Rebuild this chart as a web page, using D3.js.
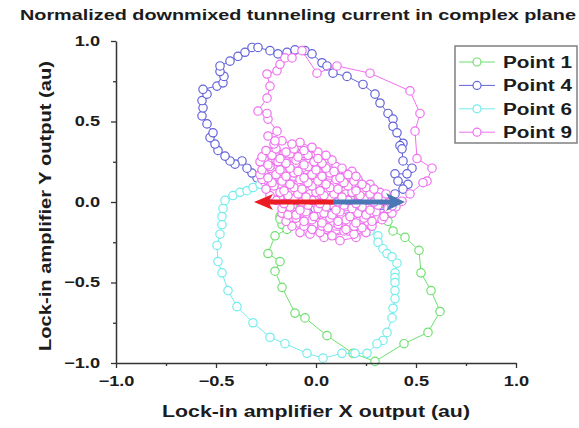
<!DOCTYPE html>
<html>
<head>
<meta charset="utf-8">
<script src="https://cdn.jsdelivr.net/npm/d3@7"></script>
<style>
  body { margin: 0; background: #fff; }
  svg { display: block; }
  text { font-family: "Liberation Sans", Arial, sans-serif; font-weight: bold; fill: #1c1c1c; }
</style>
</head>
<body>
<svg id="chart" width="579" height="428"></svg>
<script>
// ---- data (lock-in X, Y outputs, normalized) ----
const seriesNames = ["Point 1", "Point 4", "Point 6", "Point 9"];

const point1 = [[-0.17,-0.14],[-0.18,-0.09],[-0.13,-0.07],[-0.08,-0.04],[-0.02,-0.02],[0.045,0.01],[0.11,0.02],[0.17,0.03],[0.23,0.04],[0.28,0.02],[0.33,-0.06],[0.36,-0.12],[0.385,-0.18],[0.445,-0.22],[0.515,-0.30],[0.525,-0.44],[0.575,-0.55],[0.62,-0.68],[0.56,-0.81],[0.44,-0.88],[0.295,-0.99],[0.185,-0.94],[0.055,-0.83],[-0.055,-0.72],[-0.105,-0.69],[-0.17,-0.53],[-0.205,-0.43],[-0.18,-0.37],[-0.24,-0.32],[-0.205,-0.21],[-0.145,-0.17],[-0.18,-0.105]];

const point4 = [[-0.24,0.11],[-0.27,0.13],[-0.295,0.15],[-0.32,0.18],[-0.345,0.21],[-0.37,0.255],[-0.405,0.235],[-0.43,0.255],[-0.455,0.285],[-0.49,0.32],[-0.505,0.36],[-0.53,0.40],[-0.515,0.43],[-0.545,0.485],[-0.57,0.535],[-0.565,0.585],[-0.57,0.63],[-0.545,0.67],[-0.565,0.70],[-0.495,0.72],[-0.465,0.74],[-0.46,0.78],[-0.48,0.81],[-0.48,0.845],[-0.43,0.875],[-0.39,0.905],[-0.355,0.93],[-0.32,0.96],[-0.29,0.96],[-0.23,0.94],[-0.19,0.92],[-0.145,0.93],[-0.105,0.945],[-0.055,0.94],[-0.02,0.92],[0.03,0.865],[0.055,0.845],[0.085,0.80],[0.155,0.78],[0.235,0.73],[0.295,0.67],[0.32,0.615],[0.36,0.55],[0.385,0.515],[0.385,0.47],[0.405,0.43],[0.435,0.365],[0.42,0.35],[0.43,0.33],[0.435,0.255],[0.48,0.21],[0.455,0.175],[0.395,0.175],[0.41,0.13],[0.46,0.11],[0.435,0.08],[0.395,0.05],[0.355,-0.01],[0.33,-0.07],[0.295,-0.105],[0.22,-0.13],[0.145,-0.10],[0.07,-0.07],[-0.005,-0.04],[-0.08,0.005],[-0.155,0.05],[-0.205,0.08]];

const point6 = [[-0.13,0.02],[-0.055,-0.01],[0.02,-0.04],[0.095,-0.07],[0.16,-0.09],[0.22,-0.12],[0.235,-0.16],[0.27,-0.18],[0.31,-0.21],[0.31,-0.25],[0.335,-0.29],[0.355,-0.32],[0.38,-0.34],[0.405,-0.38],[0.395,-0.44],[0.395,-0.47],[0.395,-0.50],[0.395,-0.55],[0.395,-0.60],[0.385,-0.66],[0.38,-0.72],[0.355,-0.81],[0.335,-0.86],[0.305,-0.88],[0.255,-0.94],[0.195,-0.94],[0.13,-0.94],[0.035,-0.97],[-0.045,-0.94],[-0.155,-0.88],[-0.23,-0.84],[-0.315,-0.75],[-0.395,-0.65],[-0.44,-0.55],[-0.47,-0.44],[-0.49,-0.37],[-0.495,-0.27],[-0.48,-0.20],[-0.47,-0.14],[-0.47,-0.09],[-0.465,-0.04],[-0.455,0.01],[-0.415,0.04],[-0.38,0.06],[-0.345,0.07],[-0.315,0.09],[-0.28,0.11],[-0.255,0.12],[-0.22,0.13],[-0.17,0.10],[-0.105,0.07]];

const point9 = [
  [-0.23,0.31],[-0.16,0.30],[-0.07,0.30],[0.01,0.31],
  [0.06,0.27],[-0.03,0.26],[-0.11,0.27],[-0.20,0.26],[-0.26,0.27],
  [-0.25,0.22],[-0.16,0.23],[-0.07,0.21],[0.02,0.23],[0.10,0.22],
  [0.18,0.19],[0.10,0.17],[0.01,0.19],[-0.08,0.17],[-0.17,0.19],[-0.26,0.18],
  [-0.24,0.13],[-0.15,0.14],[-0.06,0.13],[0.03,0.15],[0.12,0.13],[0.21,0.14],
  [0.27,0.11],[0.18,0.09],[0.09,0.11],[0.00,0.09],[-0.09,0.11],[-0.18,0.09],[-0.23,0.10],
  [-0.21,0.06],[-0.12,0.07],[-0.03,0.05],[0.06,0.07],[0.15,0.05],[0.24,0.07],[0.32,0.06],
  [0.35,0.02],[0.26,0.03],[0.17,0.02],[0.08,0.03],[-0.01,0.02],[-0.10,0.03],[-0.18,0.02],
  [-0.15,-0.02],[-0.06,-0.01],[0.03,-0.02],[0.12,-0.01],[0.21,-0.02],[0.30,-0.01],[0.38,-0.02],
  [0.36,-0.06],[0.27,-0.07],[0.19,-0.05],[0.10,-0.06],[0.01,-0.07],[-0.08,-0.06],[-0.15,-0.05],
  [-0.13,-0.10],[-0.04,-0.09],[0.05,-0.11],[0.13,-0.09],[0.22,-0.11],[0.31,-0.10],
  [0.26,-0.13],[0.17,-0.14],[0.08,-0.13],[-0.01,-0.14],[-0.09,-0.13],
  [-0.05,-0.18],[0.05,-0.17],[0.16,-0.18],[0.24,-0.17],
  [0.04,-0.22],[0.12,-0.24],[0.20,-0.22],
  [0.25,-0.19],[0.19,-0.20],[0.14,-0.18],[0.08,-0.21],[0.02,-0.19],[-0.03,-0.20],[-0.08,-0.19],
  [-0.12,-0.15],[-0.06,-0.15],[-0.02,-0.17],[0.03,-0.15],[0.06,-0.16],[0.11,-0.14],[0.15,-0.17],[0.19,-0.15],[0.23,-0.16],[0.28,-0.15],
  [0.33,-0.11],[0.28,-0.12],[0.24,-0.10],[0.20,-0.13],[0.15,-0.11],[0.11,-0.12],[0.07,-0.10],[0.03,-0.13],[-0.02,-0.11],[-0.06,-0.12],[-0.10,-0.10],[-0.15,-0.12],
  [-0.17,-0.07],[-0.14,-0.08],[-0.10,-0.08],[-0.05,-0.06],[-0.01,-0.09],[0.04,-0.07],[0.08,-0.08],[0.12,-0.06],[0.17,-0.09],[0.21,-0.07],[0.25,-0.08],[0.30,-0.06],[0.34,-0.09],[0.38,-0.07],
  [0.40,-0.03],[0.36,-0.04],[0.31,-0.02],[0.27,-0.05],[0.23,-0.03],[0.18,-0.04],[0.14,-0.02],[0.10,-0.05],[0.05,-0.03],[0.01,-0.04],[-0.04,-0.02],[-0.08,-0.05],[-0.13,-0.03],[-0.17,-0.04],
  [-0.20,0.01],[-0.16,-0.01],[-0.11,0.02],[-0.07,0.00],[-0.02,0.01],[0.02,-0.01],[0.07,0.02],[0.11,0.00],[0.16,0.01],[0.20,-0.01],[0.24,0.02],[0.29,0.00],[0.33,0.01],[0.37,0.00],
  [0.35,0.05],[0.31,0.03],[0.27,0.05],[0.22,0.04],[0.18,0.06],[0.13,0.03],[0.09,0.05],[0.04,0.04],[0.00,0.06],[-0.05,0.03],[-0.09,0.05],[-0.14,0.04],[-0.18,0.06],[-0.23,0.04],
  [-0.25,0.08],[-0.21,0.10],[-0.16,0.07],[-0.11,0.09],[-0.07,0.08],[-0.02,0.10],[0.02,0.07],[0.07,0.09],[0.11,0.08],[0.16,0.10],[0.20,0.07],[0.25,0.09],[0.29,0.08],
  [0.23,0.11],[0.19,0.13],[0.14,0.12],[0.10,0.14],[0.05,0.11],[0.01,0.13],[-0.04,0.12],[-0.08,0.14],[-0.13,0.11],[-0.17,0.13],[-0.22,0.12],[-0.27,0.14],
  [-0.28,0.17],[-0.24,0.15],[-0.20,0.17],[-0.15,0.16],[-0.11,0.18],[-0.06,0.15],[-0.02,0.17],[0.03,0.16],[0.07,0.18],[0.12,0.15],[0.16,0.17],[0.20,0.16],
  [0.13,0.21],[0.09,0.19],[0.05,0.21],[0.00,0.20],[-0.04,0.22],[-0.09,0.19],[-0.13,0.21],[-0.18,0.20],[-0.23,0.22],[-0.27,0.20],
  [-0.28,0.25],[-0.24,0.23],[-0.19,0.25],[-0.15,0.24],[-0.10,0.26],[-0.06,0.23],[-0.01,0.25],[0.03,0.24],[0.08,0.26],
  [0.05,0.29],[0.01,0.27],[-0.04,0.29],[-0.09,0.28],[-0.13,0.30],[-0.18,0.27],[-0.22,0.29],[-0.27,0.28],
  [-0.25,0.32],[-0.20,0.33],[-0.15,0.31],[-0.11,0.33],[-0.06,0.32],[-0.02,0.34],
  [-0.08,0.37],[-0.12,0.36],[-0.17,0.38],[-0.21,0.36],
  [-0.205,0.38],[-0.24,0.41],[-0.195,0.44],[-0.24,0.515],[-0.245,0.55],[-0.29,0.565],[-0.245,0.645],[-0.23,0.72],[-0.245,0.795],[-0.195,0.815],[-0.18,0.855],[-0.155,0.895],[-0.12,0.895],[-0.07,0.94],[0.005,0.80],[0.105,0.845],[0.27,0.80],[0.47,0.69],[0.52,0.55],[0.495,0.44],[0.505,0.27],[0.58,0.21],[0.555,0.13],[0.535,0.12],[0.47,0.05],[0.43,0.005],[0.38,-0.025]
];

const xTicks = [-1.0, -0.5, 0.0, 0.5, 1.0];
const yTicks = [-1.0, -0.5, 0.0, 0.5, 1.0];
const minorTicks = [-0.75, -0.25, 0.25, 0.75];

// phase arrows: [start, end] in data units
const leftArrow = [[0.085, 0.0], [-0.31, 0.0]];
const rightArrow = [[0.085, 0.0], [0.445, 0.0]];

// ---- styling ----
const colors = ["#6fe06f", "#6363da", "#74ecec", "#ef70ef"];
const allSeries = [point1, point4, point6, point9];

const svg = d3.select("#chart");
const x = d3.scaleLinear().domain([-1, 1]).range([116, 516]);
const y = d3.scaleLinear().domain([-1, 1]).range([363, 41]);

// stretch glyphs horizontally to the wide lettering of the figure
function widen(sel, k) {
  sel.each(function () {
    const w = this.getComputedTextLength();
    d3.select(this).attr("textLength", w * k).attr("lengthAdjust", "spacingAndGlyphs");
  });
}

// ---- series ----
const line = d3.line().x(d => x(d[0])).y(d => y(d[1]));
allSeries.forEach((data, i) => {
  const g = svg.append("g");
  g.append("path").attr("d", line(data)).attr("fill", "none")
    .attr("stroke", colors[i]).attr("stroke-width", 1);
  g.selectAll("circle").data(data).join("circle")
    .attr("cx", d => x(d[0])).attr("cy", d => y(d[1])).attr("r", 4.2)
    .attr("fill", "#fff").attr("stroke", colors[i]).attr("stroke-width", 1.2);
});

// ---- arrows ----
function arrow(pts, color, shaft, headLen, headHalf) {
  const x0 = x(pts[0][0]), y0 = y(pts[0][1]);
  const x1 = x(pts[1][0]), y1 = y(pts[1][1]);
  const dir = Math.sign(x1 - x0);
  svg.append("line").attr("x1", x0).attr("y1", y0)
    .attr("x2", x1 - dir * headLen * 0.7).attr("y2", y1)
    .attr("stroke", color).attr("stroke-width", shaft);
  const bx = x1 - dir * headLen;
  svg.append("path")
    .attr("d", `M${x1},${y1}L${bx},${y1 - headHalf}L${bx + dir * headLen * 0.25},${y1}L${bx},${y1 + headHalf}Z`)
    .attr("fill", color);
}
arrow(leftArrow, "#ec1c24", 5, 19, 8);
arrow(rightArrow, "#4a78b4", 5, 19, 9);

// ---- axes ----
const fmt = d3.format(".1f");
svg.append("g").attr("transform", "translate(0,363)")
  .call(d3.axisBottom(x).tickValues(xTicks).tickFormat(fmt).tickSize(5).tickPadding(8).tickSizeOuter(0));
svg.append("g").attr("transform", "translate(0,363)")
  .call(d3.axisBottom(x).tickValues(minorTicks).tickFormat("").tickSize(3).tickSizeOuter(0))
  .select(".domain").remove();
svg.append("g").attr("transform", "translate(116,0)")
  .call(d3.axisLeft(y).tickValues(yTicks).tickFormat(fmt).tickSize(5).tickPadding(11).tickSizeOuter(0));
svg.append("g").attr("transform", "translate(116,0)")
  .call(d3.axisLeft(y).tickValues(minorTicks).tickFormat("").tickSize(3).tickSizeOuter(0))
  .select(".domain").remove();

svg.selectAll(".domain").attr("stroke", "#333").attr("stroke-width", 1.5);
svg.selectAll(".tick line").attr("stroke", "#333").attr("stroke-width", 1.3);
const tickText = svg.selectAll(".tick text")
  .style("font-family", '"Liberation Sans", Arial, sans-serif')
  .style("font-weight", "bold").style("font-size", "14px").attr("fill", "#1c1c1c");
widen(tickText, 1.3);

// ---- titles ----
svg.append("text").attr("x", 298).attr("y", 20).attr("text-anchor", "middle")
  .style("font-size", "15px").attr("textLength", 556).attr("lengthAdjust", "spacingAndGlyphs")
  .text("Normalized downmixed tunneling current in complex plane");
svg.append("text").attr("x", 316).attr("y", 417).attr("text-anchor", "middle")
  .style("font-size", "17px").attr("textLength", 308).attr("lengthAdjust", "spacingAndGlyphs")
  .text("Lock-in amplifier X output (au)");
svg.append("text").attr("transform", "translate(51,206) rotate(-90)").attr("text-anchor", "middle")
  .style("font-size", "17px").attr("textLength", 290).attr("lengthAdjust", "spacingAndGlyphs")
  .text("Lock-in amplifier Y output (au)");

// ---- legend ----
const lg = svg.append("g");
lg.append("rect").attr("x", 455).attr("y", 46).attr("width", 122).attr("height", 97)
  .attr("fill", "#fff").attr("stroke", "#808080").attr("stroke-width", 1.5);
seriesNames.forEach((name, i) => {
  const cy = 62 + i * 23.4;
  lg.append("line").attr("x1", 459).attr("x2", 495).attr("y1", cy).attr("y2", cy)
    .attr("stroke", colors[i]).attr("stroke-width", 1);
  lg.append("circle").attr("cx", 477).attr("cy", cy).attr("r", 4)
    .attr("fill", "#fff").attr("stroke", colors[i]).attr("stroke-width", 1.2);
  lg.append("text").attr("x", 503).attr("y", cy + 6).style("font-size", "16px")
    .attr("textLength", 69).attr("lengthAdjust", "spacingAndGlyphs").text(name);
});
</script>
</body>
</html>
